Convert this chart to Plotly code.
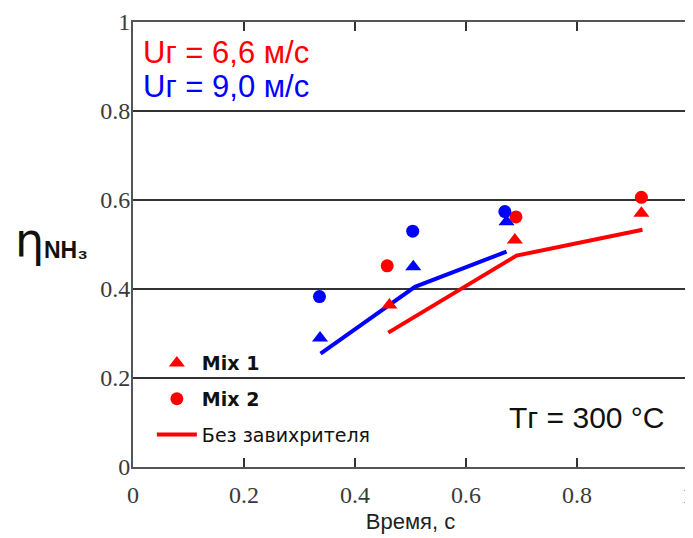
import plotly.graph_objects as go

# Data
mix1_red_x = [0.462, 0.688, 0.916]
mix1_red_y = [0.364, 0.510, 0.570]
mix2_red_x = [0.458, 0.690, 0.916]
mix2_red_y = [0.452, 0.562, 0.606]
mix1_blue_x = [0.337, 0.505, 0.673]
mix1_blue_y = [0.290, 0.450, 0.551]
mix2_blue_x = [0.336, 0.504, 0.670]
mix2_blue_y = [0.383, 0.530, 0.574]
noswirl_red_x = [0.460, 0.691, 0.918]
noswirl_red_y = [0.302, 0.475, 0.533]
noswirl_blue_x = [0.338, 0.508, 0.673]
noswirl_blue_y = [0.255, 0.405, 0.484]

tick_vals = [0, 0.2, 0.4, 0.6, 0.8, 1]
tick_text = ["0", "0.2", "0.4", "0.6", "0.8", "1"]

RED = "#ff0000"
BLUE = "#0000ff"

fig = go.Figure()

# lines
fig.add_trace(go.Scatter(x=noswirl_red_x, y=noswirl_red_y, mode="lines",
                         line=dict(color=RED, width=4), showlegend=False))
fig.add_trace(go.Scatter(x=noswirl_blue_x, y=noswirl_blue_y, mode="lines",
                         line=dict(color=BLUE, width=4), showlegend=False))
# markers
fig.add_trace(go.Scatter(x=mix2_red_x, y=mix2_red_y, mode="markers",
                         marker=dict(color=RED, size=13, symbol="circle"), showlegend=False))
fig.add_trace(go.Scatter(x=mix1_red_x, y=mix1_red_y, mode="markers",
                         marker=dict(color=RED, size=14, symbol="triangle-up"), showlegend=False))
fig.add_trace(go.Scatter(x=mix2_blue_x, y=mix2_blue_y, mode="markers",
                         marker=dict(color=BLUE, size=13, symbol="circle"), showlegend=False))
fig.add_trace(go.Scatter(x=mix1_blue_x, y=mix1_blue_y, mode="markers",
                         marker=dict(color=BLUE, size=14, symbol="triangle-up"), showlegend=False))

# legend entries
fig.add_trace(go.Scatter(x=[None], y=[None], mode="markers", name="<b>Mix 1</b>", legendgroup="a",
                         marker=dict(color=RED, size=14, symbol="triangle-up")))
fig.add_trace(go.Scatter(x=[None], y=[None], mode="markers", name="<b>Mix 2</b>", legendgroup="b",
                         marker=dict(color=RED, size=13, symbol="circle")))
fig.add_trace(go.Scatter(x=[None], y=[None], mode="lines", name="Без завихрителя", legendgroup="c",
                         line=dict(color=RED, width=4)))

axis_common = dict(
    range=[0, 1], tickvals=tick_vals, ticktext=tick_text,
    showline=True, linecolor="#555555", linewidth=2,
    tickfont=dict(family="Liberation Serif", size=24, color="#3a3a3a"),
    zeroline=False, automargin=False, ticklabeloverflow="allow",
)

fig.update_xaxes(**axis_common, mirror="ticks", showgrid=False, ticks="inside", ticklen=9,
                 tickcolor="#333333", tickwidth=2, ticklabelstandoff=5,
                 title=dict(text="Время, с", font=dict(family="Liberation Sans", size=22, color="#222222"),
                            standoff=7))
fig.update_yaxes(**axis_common, mirror=True, showgrid=True, gridcolor="#333333", gridwidth=1.5,
                 ticks="", ticklabelstandoff=-4)

# the page body has an 8px margin, so the figure is sized and placed to compensate
fig.update_layout(
    width=685, height=530,
    margin=dict(l=125, r=5, t=14, b=71),
    paper_bgcolor="white", plot_bgcolor="white",
    showlegend=True,
    legend=dict(x=0.034, y=0.276, xanchor="left", yanchor="top",
                bgcolor="rgba(0,0,0,0)", tracegroupgap=8, itemwidth=40,
                font=dict(family="DejaVu Sans", size=19, color="#111111"),
                traceorder="grouped"),
    annotations=[
        dict(text="Uг = 6,6 м/с", x=0.014, y=0.931, xref="paper", yref="paper",
             xanchor="left", yanchor="middle", showarrow=False,
             font=dict(family="Liberation Sans", size=31, color=RED)),
        dict(text="Uг = 9,0 м/с", x=0.014, y=0.854, xref="paper", yref="paper",
             xanchor="left", yanchor="middle", showarrow=False,
             font=dict(family="Liberation Sans", size=31, color=BLUE)),
        dict(text="Tг = 300 °C", x=0.673, y=0.112, xref="paper", yref="paper",
             xanchor="left", yanchor="middle", showarrow=False,
             font=dict(family="Liberation Sans", size=30, color="#111111")),
        dict(text="η", x=-0.186, y=0.51, xref="paper", yref="paper",
             xanchor="center", yanchor="middle", showarrow=False,
             font=dict(family="DejaVu Sans", size=46, color="#111111")),
        dict(text="<b>NH₃</b>", x=-0.121, y=0.488, xref="paper", yref="paper",
             xanchor="center", yanchor="middle", showarrow=False,
             font=dict(family="Liberation Sans", size=23, color="#111111")),
    ],
)

fig.write_html("out.html")
